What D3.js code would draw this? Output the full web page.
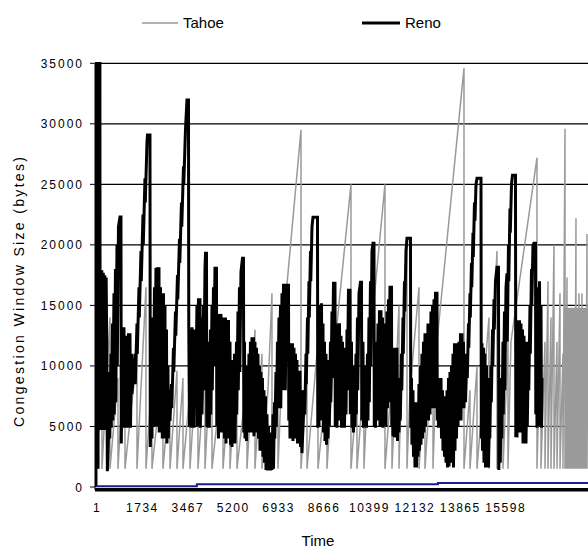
<!DOCTYPE html>
<html>
<head>
<meta charset="utf-8">
<script src="https://cdn.jsdelivr.net/npm/d3@7"></script>
<style>
  body { margin: 0; background: #fff; }
  text { font-family: "Liberation Sans", Arial, sans-serif; fill: #000; }
</style>
</head>
<body>
<svg id="chart" width="588" height="549"></svg>
<script>
// Axis ticks
const xTicks = [1, 1734, 3467, 5200, 6933, 8666, 10399, 12132, 13865, 15598];
const yTicks = [0, 5000, 10000, 15000, 20000, 25000, 30000, 35000];

// Tahoe congestion window [time, bytes]
const tahoe = [
  [0,1500],[229,8800],[229,1500],[534,14000],[534,1500],[840,9000],[840,1500],
  [1107,12000],[1107,1500],[1565,11000],[1565,1500],[1909,16500],[1909,1500],
  [2137,9000],[2137,1500],[2557,10000],[2557,1500],[2825,8000],[2825,1500],
  [3092,9600],[3092,1500],[3321,9000],[3321,1500],[3588,8000],[3588,1500],
  [3893,12000],[3893,1500],[4161,10000],[4161,1500],[4428,13000],[4428,1500],
  [4848,10000],[4848,1500],[5115,9000],[5115,1500],[5382,12000],[5382,1500],
  [5764,9000],[5764,1500],[6069,13000],[6069,1500],[6336,11000],[6336,1500],
  [6565,8000],[6718,16000],[6718,1500],[6947,9000],[6947,1500],
  [7176,14000],[7825,29500],[7825,1500],[8054,9000],[8054,1500],
  [8474,12000],[8474,1500],[8817,9000],[8817,1500],
  [9084,11000],[9733,25000],[9733,1500],[9962,8000],[9962,1500],
  [10229,9000],[10229,1500],[10420,11000],[11031,25000],[11031,1500],
  [11298,9000],[11298,1500],[11566,15000],[11566,1500],
  [11642,8000],[11871,20500],[11871,1500],[11985,8000],[12329,16500],[12329,1500],
  [12558,9000],[12558,1500],[12864,12000],[12864,1500],
  [13016,12000],[14047,34600],[14047,1500],[14276,8000],[14276,1500],
  [14543,10000],[14543,1500],[15001,14000],[15001,1500],
  [15077,9000],[15306,19500],[15306,1500],[15535,10000],[15535,1500],
  [15726,12000],[15726,1500],[15840,12000],[16833,27200],[16833,1500],
  [16986,14000],[16986,1500],[17138,12000],[17138,1500],[17253,17000],[17253,1500],
  [17367,14000],[17367,1500],[17482,20000],[17482,1500],[17596,12000],[17596,1500],
  [17711,16000],[17711,1500],[17825,11000],[17825,1500],[17902,29600],[17902,1500],
  [17940,14800],[17940,1500],[17978,17300],[17978,1500],[18016,14800],[18016,1500],
  [18054,14800],[18054,1500],[18093,14800],[18093,1500],[18131,14800],[18131,1500],
  [18169,14800],[18169,1500],[18207,14800],[18207,1500],[18245,14800],[18245,1500],
  [18283,14800],[18283,1500],[18321,22200],[18321,1500],[18359,14800],[18359,1500],
  [18398,14800],[18398,1500],[18436,16000],[18436,1500],[18474,14800],[18474,1500],
  [18512,14800],[18512,1500],[18550,16000],[18550,1500],[18588,14800],[18588,1500],
  [18627,14800],[18627,1500],[18665,14800],[18665,1500],[18703,14800],[18703,1500],
  [18741,20900],[18741,1500],[18779,14800]
];

// Reno congestion window [time, bytes]
const reno = [
  [0,0],[10,35000],[76,35000],[80,1500],[88,35000],[150,35000],[155,17900],
  [191,4700],[221,17900],[248,4700],[279,17700],[305,6500],[336,17500],[363,4700],
  [389,17300],[420,9000],[435,1300],[477,4200],
  [515,9500],[527,4000],[573,11000],[584,4900],[630,13500],[641,5500],[687,16000],
  [699,6000],[744,18000],[756,7000],[802,20000],[813,10000],[859,21500],[916,22300],
  [954,22300],[966,3600],
  [1011,13200],[1031,5000],[1069,13200],[1088,4900],[1126,12500],[1145,6000],
  [1183,12000],[1202,4900],[1240,12700],[1260,5500],[1298,12700],[1317,4900],
  [1355,11000],[1374,7700],
  [1489,11000],[1500,8500],[1565,13500],[1576,11000],[1641,16500],[1653,14000],
  [1718,19500],[1729,17000],[1794,22500],[1805,20000],[1870,25500],[1882,23500],
  [1947,28500],[1966,29070],[2061,29070],[2073,3300],
  [2118,9000],[2137,4000],[2176,14000],[2187,5000],[2233,16500],[2244,6000],
  [2290,18100],[2302,5000],[2347,18150],[2367,7000],[2405,18150],[2416,4500],
  [2462,16500],[2481,6000],[2519,16000],[2531,4000],[2576,16000],[2596,5500],
  [2634,15000],[2645,4000],[2691,13000],[2710,3600],[2748,10000],[2760,4000],
  [2805,8000],[2825,5460],
  [2882,8500],[2893,6500],[2958,11500],[2970,9500],[3034,14500],[3046,12500],
  [3111,17500],[3122,15500],[3187,20500],[3199,18500],[3263,23500],[3275,21500],
  [3340,26500],[3351,25000],[3416,29500],[3473,31960],[3531,31960],[3542,13200],
  [3569,5000],[3607,13000],[3626,4900],[3664,13200],[3683,6000],[3722,12500],
  [3741,4900],[3779,13000],[3798,6500],
  [3855,15000],[3867,5000],[3912,15590],[3932,7000],[3970,15590],[3981,4900],
  [4027,14000],[4046,6000],
  [4103,15000],[4115,8000],[4161,18000],[4180,19310],[4218,19310],[4229,5000],
  [4256,12000],[4275,4900],
  [4313,10000],[4325,4900],[4370,13000],[4382,6000],[4428,15000],[4439,8000],
  [4485,16500],[4497,10000],[4542,18070],[4599,18070],[4611,5000],
  [4657,14000],[4676,4000],[4714,14300],[4733,5000],[4771,14300],[4790,4500],
  [4828,13000],[4848,6000],[4886,14000],[4905,4000],[4943,14000],[4962,3600],
  [5000,13800],[5019,5000],[5058,13800],[5077,4000],[5115,12000],[5134,3500],
  [5172,10500],[5191,3300],[5229,10000],[5248,4000],[5287,11000],[5306,3600],
  [5363,12000],[5374,6000],[5420,14500],[5432,8000],[5477,16500],[5489,9500],
  [5535,17800],[5592,18900],[5630,18900],[5642,4500],[5668,12000],[5687,4000],
  [5725,10000],[5745,3800],
  [5783,9000],[5802,4500],[5840,11000],[5859,5000],[5897,12000],[5916,4500],
  [5954,12360],[5974,6000],[6012,12360],[6031,4200],[6069,12000],[6088,5500],
  [6126,11500],[6145,4500],[6183,11000],[6203,4000],
  [6241,10000],[6260,3000],[6298,9500],[6317,3500],[6355,9000],[6374,2500],
  [6413,8000],[6432,2000],[6470,7500],[6489,1400],[6527,6000],[6546,1360],
  [6584,5000],[6603,1400],[6642,4500],[6661,1360],[6699,4000],[6718,1400],
  [6756,6000],[6775,1500],
  [6814,7000],[6825,4000],[6871,9500],[6882,5000],[6928,12000],[6939,6500],
  [6985,14000],[6997,7000],[7042,15000],[7054,6500],[7100,16000],[7111,8000],
  [7157,16660],[7214,16660],[7226,8000],[7271,16660],[7348,16660],[7359,5500],
  [7386,11000],[7405,4000],[7443,11870],[7462,5000],[7500,11870],[7519,3800],
  [7558,11500],[7577,5500],[7615,11000],[7634,4000],[7672,10500],[7691,3600],
  [7729,9600],[7748,4500],[7787,9600],[7806,3300],[7844,8000],[7863,2800],
  [7901,5000],[7958,8000],[7970,6000],[8016,11000],[8027,8500],[8073,14000],
  [8085,11000],[8130,17000],[8142,14000],[8188,19500],[8199,17000],[8245,21500],
  [8283,22290],[8455,22290],[8466,4900],
  [8493,12000],[8512,5000],[8550,15000],[8569,6000],[8608,15170],[8627,5500],
  [8665,13500],[8684,4500],[8722,12000],[8741,3800],[8779,11000],[8798,3500],
  [8836,10500],[8855,4000],[8894,9000],
  [8905,5000],[8951,12000],[8962,7000],[9008,14500],[9020,9000],[9066,16830],
  [9123,16830],[9134,5000],
  [9180,12000],[9199,4900],[9237,13500],[9256,5500],[9294,13520],[9314,6000],
  [9352,12500],[9371,4900],[9409,12000],[9428,5500],[9466,11500],[9485,4900],
  [9523,11000],
  [9543,6000],[9581,13000],[9592,8000],[9638,16250],[9695,16250],[9707,6000],
  [9752,12000],[9772,4900],[9810,10000],[9829,4500],
  [9867,9000],[9886,5000],[9924,11000],[9936,6000],[9981,14000],[9993,8000],
  [10039,16000],[10096,16910],[10134,16910],[10145,5500],[10191,12000],[10210,4900],
  [10249,10000],[10268,5000],[10306,9000],[10325,4900],[10363,11000],[10382,5500],
  [10420,14000],[10432,7000],[10477,17000],[10489,10000],[10535,19500],[10573,20140],
  [10611,20140],[10623,5000],
  [10649,10000],[10668,4900],[10707,12000],[10726,5500],[10764,13500],[10783,6000],
  [10821,14600],[10840,5000],[10878,14600],[10898,6000],[10936,14000],[10955,4900],
  [10993,13000],[11012,5500],[11050,13500],[11069,5000],[11107,14500],[11127,6500],
  [11165,15500],[11184,7000],[11222,16500],[11279,16500],[11291,5000],
  [11317,11000],[11336,4200],[11375,11500],[11394,4100],[11432,11000],[11451,5000],
  [11489,11500],[11508,3800],[11546,9000],[11566,4500],
  [11604,8000],[11615,5500],[11661,11000],[11672,8000],[11718,14000],[11730,11000],
  [11775,17000],[11787,14500],[11833,19500],[11871,20550],[12004,20550],[12016,4900],
  [12042,9000],[12061,3500],[12100,8000],[12119,2500],[12157,7000],[12176,1610],
  [12214,6000],[12233,1610],
  [12271,7000],[12291,2500],[12329,8500],[12348,3000],[12386,10000],[12405,3500],
  [12443,11000],[12462,4000],[12501,12000],[12520,4500],[12558,12690],[12577,5000],
  [12615,12690],[12634,6000],[12672,13500],[12692,5500],[12730,13500],[12749,6000],
  [12787,14500],[12806,6500],[12844,15000],[12863,7000],[12902,15500],[12921,6500],
  [12959,16000],[13016,16000],[13028,5500],
  [13054,9000],[13073,4900],[13111,8500],[13131,5000],[13169,9000],[13188,4000],
  [13226,8000],[13245,3000],
  [13283,7500],[13302,2500],[13340,7000],[13360,2000],[13398,8000],[13417,1610],
  [13455,9000],[13474,1700],[13512,9500],[13531,2500],[13570,10000],[13589,2000],
  [13627,11000],[13646,1610],[13684,11870],[13703,3000],[13741,11870],[13760,4000],
  [13799,11000],[13818,5000],[13856,12000],[13875,6000],[13913,12690],[13932,5500],
  [13970,12690],[13989,7000],[14028,12000],[14047,6500],[14085,11000],[14104,7000],
  [14161,11000],[14173,9000],[14218,13500],[14230,11500],[14276,16000],[14287,14000],
  [14333,18500],[14344,16500],[14390,21000],[14402,19000],[14447,23500],[14466,22000],
  [14505,25000],[14543,25510],[14696,25510],[14707,4000],
  [14734,11870],[14753,3000],[14791,11500],[14810,2000],[14848,11000],[14867,1610],
  [14906,10000],[14925,2500],[14963,9000],[14982,1610],
  [15020,7000],[15032,4000],[15077,10000],[15089,7000],[15135,13000],[15146,10000],
  [15192,15500],[15203,13000],[15249,17000],[15306,18150],[15363,18150],[15375,1400],
  [15421,6000],[15432,2000],[15478,9000],[15489,4000],[15535,12000],[15547,6000],
  [15592,14500],[15604,8000],[15650,16500],[15688,17650],
  [15699,12000],[15745,20000],[15757,17000],[15802,23000],[15814,21000],[15860,25000],
  [15898,25760],[16012,25760],[16024,4100],
  [16051,13000],[16070,4100],[16108,13770],[16127,5000],[16165,13770],[16184,4500],
  [16222,13500],[16242,5500],[16280,13000],[16299,3600],[16337,12500],[16356,4500],
  [16394,12000],[16413,3600],[16451,10000],
  [16463,5000],[16508,12000],[16520,8000],[16566,15000],[16577,11000],[16623,18000],
  [16634,15000],[16680,20000],[16718,20140],[16776,20140],[16787,6000],
  [16814,15000],[16833,4900],[16871,16500],[16890,5500],[16929,17000],[16948,5000],
  [16986,15000],[17005,4900],[17024,9000]
];

// unlabelled dark blue series just above zero
const lowSeries = [[1,60],[3850,60],[3850,220],[13050,220],[13050,330],[18780,330]];

const svg = d3.select("#chart");
const x = d3.scaleLinear().domain([1, 18780]).range([96, 588]);
const y = d3.scaleLinear().domain([0, 35000]).range([487, 63.3]);

// clip for plot area
svg.append("clipPath").attr("id", "plot")
  .append("rect").attr("x", 95).attr("y", 62).attr("width", 493).attr("height", 427);

// gridlines
svg.append("g").selectAll("line")
  .data(yTicks.filter(d => d > 0))
  .join("line")
  .attr("x1", 95).attr("x2", 588)
  .attr("y1", d => y(d)).attr("y2", d => y(d))
  .attr("stroke", "#000").attr("stroke-width", 1.2);

const line = d3.line().x(d => x(d[0])).y(d => y(d[1]));
const plot = svg.append("g").attr("clip-path", "url(#plot)");

plot.append("path").datum(tahoe)
  .attr("d", line).attr("fill", "none")
  .attr("stroke", "#9a9a9a").attr("stroke-width", 1.5)
  .attr("stroke-linejoin", "bevel");

plot.append("path").datum(reno)
  .attr("d", line).attr("fill", "none")
  .attr("stroke", "#000").attr("stroke-width", 3)
  .attr("stroke-linejoin", "miter").attr("stroke-miterlimit", 2);

plot.append("path").datum(lowSeries)
  .attr("d", line).attr("fill", "none")
  .attr("stroke", "#1c1c8a").attr("stroke-width", 2);

// axes
svg.append("line").attr("x1", 95).attr("x2", 588)
  .attr("y1", y(0) + 2.8).attr("y2", y(0) + 2.8)
  .attr("stroke", "#000").attr("stroke-width", 3.5);
svg.append("line").attr("x1", 95).attr("x2", 95)
  .attr("y1", 63).attr("y2", 490)
  .attr("stroke", "#000").attr("stroke-width", 1);

svg.append("g").selectAll("line")
  .data(yTicks)
  .join("line")
  .attr("x1", 90).attr("x2", 95)
  .attr("y1", d => y(d)).attr("y2", d => y(d))
  .attr("stroke", "#000");

svg.append("g").selectAll("text")
  .data(yTicks)
  .join("text")
  .attr("x", 84).attr("y", d => y(d) + 4.5)
  .attr("text-anchor", "end")
  .style("font-size", "12px").style("letter-spacing", "2px")
  .text(d => d);

svg.append("g").selectAll("text")
  .data(xTicks)
  .join("text")
  .attr("x", d => x(d) + 1).attr("y", 512)
  .attr("text-anchor", "middle")
  .style("font-size", "12px").style("letter-spacing", "1.5px")
  .text(d => d);

svg.append("text").attr("x", 318).attr("y", 546)
  .attr("text-anchor", "middle").style("font-size", "15px").text("Time");

svg.append("text")
  .attr("transform", "translate(24,292) rotate(-90)")
  .attr("text-anchor", "middle").style("font-size", "14px")
  .attr("textLength", 270).attr("lengthAdjust", "spacing")
  .text("Congestion Window Size (bytes)");

// legend
const legend = [
  { name: "Tahoe", color: "#9a9a9a", width: 1.5, x0: 142, x1: 178 },
  { name: "Reno", color: "#000", width: 3, x0: 362, x1: 400 }
];
const lg = svg.append("g").selectAll("g").data(legend).join("g");
lg.append("line")
  .attr("x1", d => d.x0).attr("x2", d => d.x1).attr("y1", 23).attr("y2", 23)
  .attr("stroke", d => d.color).attr("stroke-width", d => d.width);
lg.append("text")
  .attr("x", d => d.x1 + 5).attr("y", 28)
  .style("font-size", "15px")
  .text(d => d.name);
</script>
</body>
</html>
